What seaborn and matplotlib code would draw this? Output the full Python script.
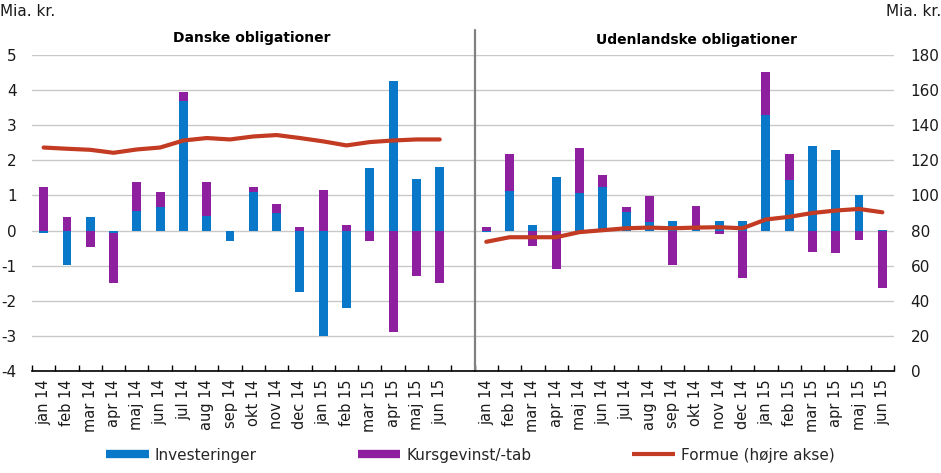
import numpy as np
import pandas as pd
import matplotlib
matplotlib.use("Agg")
import matplotlib.pyplot as plt
from matplotlib.lines import Line2D
import seaborn as sns

months = ["jan 14", "feb 14", "mar 14", "apr 14", "maj 14", "jun 14", "jul 14", "aug 14", "sep 14",
          "okt 14", "nov 14", "dec 14", "jan 15", "feb 15", "mar 15", "apr 15", "maj 15", "jun 15"]

# Danske obligationer (mia. kr.)
dk_invest = [-0.08, -0.99, 0.40, -0.07, 0.55, 0.68, 3.69, 0.41, -0.30,
             1.11, 0.50, -1.75, -3.00, -2.21, 1.79, 4.26, 1.48, 1.82]
dk_kurs = [1.24, 0.40, -0.47, -1.43, 0.84, 0.43, 0.26, 0.98, 0.0,
           0.14, 0.27, 0.11, 1.16, 0.16, -0.30, -2.89, -1.30, -1.50]
dk_formue = [127.3, 126.6, 126.0, 124.3, 126.2, 127.3, 131.3, 132.7, 131.9,
             133.6, 134.4, 132.7, 130.8, 128.5, 130.4, 131.3, 131.9, 131.9]

# Udenlandske obligationer (mia. kr.)
udl_invest = [-0.03, 1.14, 0.16, 1.53, 1.06, 1.23, 0.54, 0.24, 0.26,
              0.03, 0.26, 0.28, 3.29, 1.45, 2.41, 2.29, 1.02, 0.03]
udl_kurs = [0.11, 1.05, -0.45, -1.10, 1.30, 0.36, 0.14, 0.73, -0.99,
            0.68, -0.09, -1.35, 1.23, 0.74, -0.62, -0.64, -0.27, -1.64]
udl_formue = [73.6, 76.2, 76.2, 76.2, 79.1, 80.2, 81.3, 81.7, 81.3,
              81.7, 81.9, 81.3, 86.3, 87.8, 90.0, 91.4, 92.3, 90.4]

panel_titles = ["Danske obligationer", "Udenlandske obligationer"]
legend_labels = ["Investeringer", "Kursgevinst/-tab", "Formue (højre akse)"]

BLUE = "#0A78C8"
PURPLE = "#8E1F9E"
RED = "#C23B22"

sns.set_theme(style="white")
plt.rcParams["font.family"] = ["DejaVu Sans"]

n = len(months)
pos_dk = list(range(n))
pos_udl = list(range(n + 1, 2 * n + 1))

df = pd.DataFrame({
    "pos": pos_dk + pos_udl,
    "invest": dk_invest + udl_invest,
    "kurs": dk_kurs + udl_kurs,
})
# Excel-style stacking: positives stack up from 0, negatives down from 0
inv_p = df["invest"].clip(lower=0)
inv_n = df["invest"].clip(upper=0)
df["pos_total"] = inv_p + df["kurs"].clip(lower=0)
df["neg_total"] = inv_n + df["kurs"].clip(upper=0)
df["pos_inv"] = inv_p
df["neg_inv"] = inv_n

fig = plt.figure(figsize=(9.41, 4.73), dpi=100)
ax = fig.add_axes([32 / 941, 102 / 473, 862 / 941, 316 / 473])

order = list(range(2 * n + 1))
bar_kw = dict(x="pos", order=order, width=0.38, saturation=1, errorbar=None,
              linewidth=0, ax=ax)
sns.barplot(data=df, y="pos_total", color=PURPLE, **bar_kw)
sns.barplot(data=df, y="neg_total", color=PURPLE, **bar_kw)
sns.barplot(data=df, y="pos_inv", color=BLUE, **bar_kw)
sns.barplot(data=df, y="neg_inv", color=BLUE, **bar_kw)

ax.set_ylim(-4, 5)
ax.set_xlim(-0.5, 2 * n + 0.5)
ax.set_yticks(range(-4, 6))
ax.set_yticklabels([str(v) for v in range(-4, 6)])
ax.set_xlabel("")
ax.set_ylabel("")
ax.yaxis.grid(True, color="#c8c8c8", lw=1)
ax.set_axisbelow(True)
for s in ["top", "right", "left"]:
    ax.spines[s].set_visible(False)
ax.spines["bottom"].set_color("black")
ax.spines["bottom"].set_linewidth(1.2)

ax.set_xticks(pos_dk + pos_udl)
ax.set_xticklabels(months + months, rotation=90, fontsize=10.5, color="#1a1a1a")
ax.set_xticks(np.arange(-0.5, 2 * n + 1, 1.0), minor=True)
ax.tick_params(axis="x", which="major", length=0, pad=6)
ax.tick_params(axis="x", which="minor", direction="in", length=4, width=1, color="black", bottom=True)
ax.tick_params(axis="y", length=0, pad=11, labelsize=11, labelcolor="#1a1a1a")

ax.axvline(n + 0.5, ymin=0, ymax=1.08, clip_on=False, color="#808080", lw=1.6)

ax2 = ax.twinx()
sns.lineplot(x=pos_dk, y=dk_formue, color=RED, lw=3, ax=ax2)
sns.lineplot(x=pos_udl, y=udl_formue, color=RED, lw=3, ax=ax2)
ax2.set_ylim(0, 180)
ax2.set_yticks(range(0, 181, 20))
ax2.set_ylabel("")
ax2.tick_params(axis="y", length=0, pad=12, labelsize=11, labelcolor="#1a1a1a")
for s in ax2.spines.values():
    s.set_visible(False)
ax.set_xlim(-0.5, 2 * n + 0.5)

fig.text(0.0, 1 - 12 / 473, "Mia. kr.", ha="left", va="center", fontsize=11, color="#1a1a1a")
fig.text(1.0, 1 - 12 / 473, "Mia. kr.", ha="right", va="center", fontsize=11, color="#1a1a1a")
fig.text(252 / 941, 1 - 38 / 473, panel_titles[0], ha="center", va="center",
         fontsize=10, fontweight="bold", color="black")
fig.text(697 / 941, 1 - 40 / 473, panel_titles[1], ha="center", va="center",
         fontsize=10, fontweight="bold", color="black")

handles = [Line2D([0], [0], color=BLUE, lw=6, solid_capstyle="butt"),
           Line2D([0], [0], color=PURPLE, lw=6, solid_capstyle="butt"),
           Line2D([0], [0], color=RED, lw=3, solid_capstyle="butt")]
fig.legend(handles, legend_labels, loc="center", bbox_to_anchor=(0.5, 18 / 473), ncol=3,
           frameon=False, fontsize=11, handlelength=2.8, handletextpad=0.4, columnspacing=6.6)

fig.savefig("out.png", dpi=100)
